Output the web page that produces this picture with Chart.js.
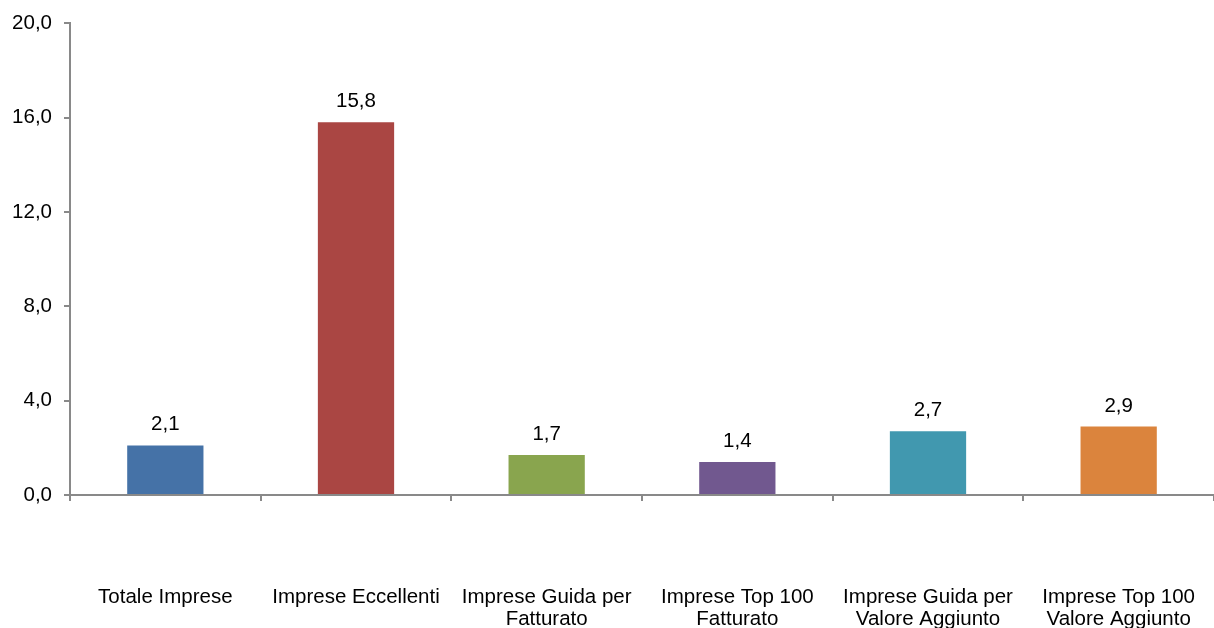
<!DOCTYPE html>
<html lang="it">
<head>
  <meta charset="UTF-8" />
  <title>Imprese</title>
  <script src="https://cdn.jsdelivr.net/npm/chart.js"></script>
  <style>
    html, body { margin: 0; padding: 0; background: #fff; }
    #wrap { width: 1214px; height: 628px; position: relative; }
  </style>
</head>
<body>
<div id="wrap"><canvas id="grafico"></canvas></div>
<script>
  const categorie = [
    'Totale Imprese',
    'Imprese Eccellenti',
    ['Imprese Guida per', 'Fatturato'],
    ['Imprese Top 100', 'Fatturato'],
    ['Imprese Guida per', 'Valore Aggiunto'],
    ['Imprese Top 100', 'Valore Aggiunto']
  ];
  const valori = [2.1, 15.8, 1.7, 1.4, 2.7, 2.9];
  const colori = ['#4572A7', '#AA4643', '#89A54E', '#71588F', '#4198AF', '#DB843D'];

  const fmt = v => v.toFixed(1).replace('.', ',');
  const coloreAsse = '#898989';
  const font = { family: "'Liberation Sans', Arial, sans-serif", size: 20.5, lineHeight: 1.1 };

  // etichette sopra le barre
  const etichette = {
    id: 'etichette',
    afterDatasetsDraw(chart) {
      const ctx = chart.ctx;
      ctx.save();
      ctx.font = font.size + 'px ' + font.family;
      ctx.fillStyle = '#000';
      ctx.textAlign = 'center';
      ctx.textBaseline = 'alphabetic';
      chart.getDatasetMeta(0).data.forEach((bar, i) => {
        ctx.fillText(fmt(valori[i]), bar.x, bar.y - 15);
      });
      ctx.restore();
    }
  };

  new Chart(document.getElementById('grafico'), {
    type: 'bar',
    data: {
      labels: categorie,
      datasets: [{
        data: valori,
        backgroundColor: colori,
        barPercentage: 0.4,
        categoryPercentage: 1
      }]
    },
    options: {
      responsive: true,
      maintainAspectRatio: false,
      animation: false,
      layout: { padding: { top: 12, right: 0, bottom: 0, left: 0 } },
      plugins: { legend: { display: false }, tooltip: { enabled: false } },
      scales: {
        x: {
          grid: { drawOnChartArea: false, color: coloreAsse, lineWidth: 2, tickLength: 6, offset: true },
          border: { color: coloreAsse, width: 2 },
          ticks: { color: '#000', font: font, padding: 85, maxRotation: 0, autoSkip: false },
          afterFit: s => { s.height = 133; s.paddingRight = 0; s.paddingLeft = 0; }
        },
        y: {
          min: 0,
          max: 20,
          grid: { drawOnChartArea: false, color: coloreAsse, lineWidth: 2, tickLength: 6 },
          border: { color: coloreAsse, width: 2 },
          ticks: { stepSize: 4, color: '#000', font: font, padding: 12, callback: v => fmt(v) },
          afterFit: s => { s.width = 70; }
        }
      }
    },
    plugins: [etichette]
  });
</script>
</body>
</html>
